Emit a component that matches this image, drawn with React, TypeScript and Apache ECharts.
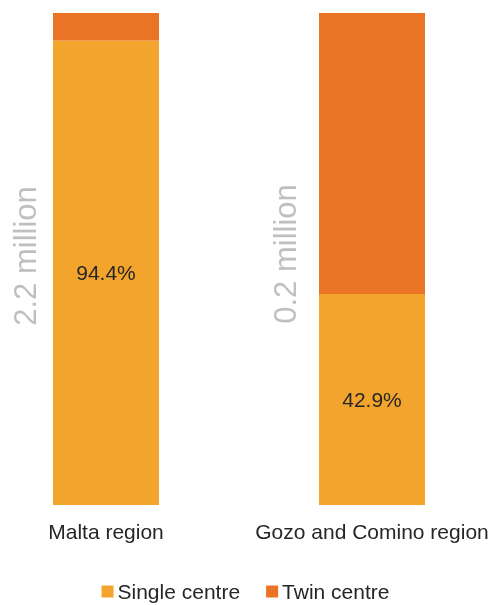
import React, { useEffect, useRef } from "react";
import * as echarts from "echarts";

const categories = ["Malta region", "Gozo and Comino region"];
const singleCentre = [94.4, 42.9];
const twinCentre = [5.6, 57.1];
const totals = ["2.2 million", "0.2 million"];
const seriesNames = ["Single centre", "Twin centre"];

const FONT = "'Liberation Sans', Arial, sans-serif";

export default function App() {
  const ref = useRef<HTMLDivElement>(null);
  useEffect(() => {
    if (!ref.current) return;
    const chart = echarts.init(ref.current, null, { renderer: "svg" });
    chart.setOption({
      animation: false,
      textStyle: { fontFamily: FONT },
      grid: {
        left: -27,
        right: -14,
        top: 13,
        bottom: 100,
        containLabel: false,
        outerBoundsMode: "none",
      },
      xAxis: {
        type: "category",
        data: categories,
        axisLine: { show: false },
        axisTick: { show: false },
        axisLabel: {
          color: "#262626",
          fontSize: 21,
          margin: 16,
          fontFamily: FONT,
          interval: 0,
          hideOverlap: false,
        },
      },
      yAxis: { type: "value", min: 0, max: 100, show: false },
      legend: {
        data: seriesNames,
        bottom: -2,
        left: "center",
        icon: "rect",
        itemWidth: 12,
        itemHeight: 12,
        itemGap: 26,
        textStyle: { color: "#262626", fontSize: 21, fontFamily: FONT, padding: [0, 0, 0, -1] },
      },
      series: [
        {
          name: seriesNames[0],
          type: "bar",
          stack: "total",
          data: singleCentre,
          barWidth: 106,
          itemStyle: { color: "#F2A42D" },
          label: {
            show: true,
            position: "inside",
            formatter: (p: any) => `${p.value.toFixed(1)}%`,
            color: "#262626",
            fontSize: 21,
            fontFamily: FONT,
          },
        },
        {
          name: seriesNames[1],
          type: "bar",
          stack: "total",
          data: twinCentre,
          barWidth: 106,
          itemStyle: { color: "#E97426" },
        },
      ],
      graphic: [
        {
          type: "text",
          x: 25,
          y: 256,
          rotation: Math.PI / 2,
          style: {
            text: totals[0],
            fill: "#BFBFBF",
            fontSize: 31,
            fontFamily: FONT,
            align: "center",
            verticalAlign: "middle",
          },
        },
        {
          type: "text",
          x: 285,
          y: 254,
          rotation: Math.PI / 2,
          style: {
            text: totals[1],
            fill: "#BFBFBF",
            fontSize: 31,
            fontFamily: FONT,
            align: "center",
            verticalAlign: "middle",
          },
        },
      ],
    });
    return () => chart.dispose();
  }, []);
  return (
    <div
      ref={ref}
      style={{ position: "fixed", left: 0, top: 0, width: 491, height: 605 }}
    />
  );
}
